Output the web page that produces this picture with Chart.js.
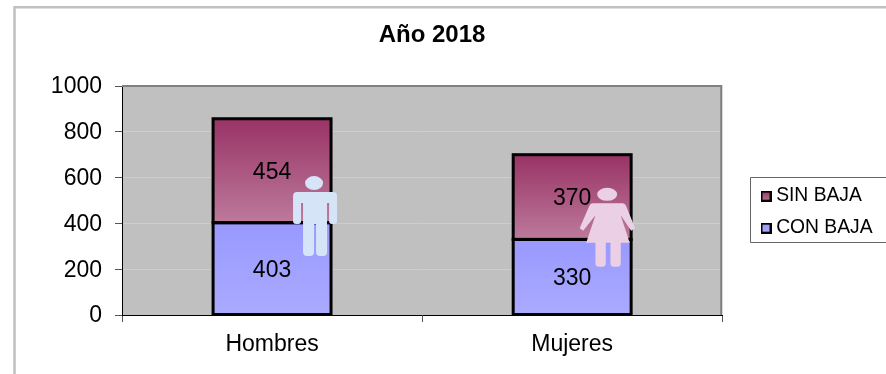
<!DOCTYPE html>
<html lang="es">

<head>
  <meta charset="UTF-8">
  <title>Año 2018</title>
  <script src="https://cdn.jsdelivr.net/npm/chart.js"></script>
  <style>
    body { margin: 0; background: #fff; }
    canvas { display: block; }
  </style>
</head>

<body>
  <canvas id="bajasChart" width="886" height="374"></canvas>
  <script>
    // Datos
    const categories = ['Hombres', 'Mujeres'];
    const conBaja = [403, 330];
    const sinBaja = [454, 370];
    const yTicks = [0, 200, 400, 600, 800, 1000];

    const font = 'Liberation Sans';

    function gradient(ctx, top, bottom, from, to) {
      const g = ctx.createLinearGradient(0, top, 0, bottom);
      g.addColorStop(0, from);
      g.addColorStop(1, to);
      return g;
    }

    // relleno de cada tramo, de arriba a abajo del propio tramo
    function segmentFill(from, to) {
      return function (c) {
        const y = c.chart.scales.y;
        if (!y || c.dataIndex === undefined) return from;
        const low = c.datasetIndex === 0 ? 0 : conBaja[c.dataIndex];
        const high = low + c.dataset.data[c.dataIndex];
        return gradient(c.chart.ctx, y.getPixelForValue(high), y.getPixelForValue(low), from, to);
      };
    }

    function swatch(from, to) {
      const s = document.createElement('canvas');
      s.width = 11;
      s.height = 11;
      const sx = s.getContext('2d');
      sx.fillStyle = gradient(sx, 0, 11, from, to);
      sx.fillRect(0, 0, 11, 11);
      sx.strokeStyle = '#000';
      sx.lineWidth = 2;
      sx.strokeRect(1, 1, 9, 9);
      return s;
    }

    // figuras, con origen en el centro de la cabeza
    const man = new Path2D('M-9 0a9 7 0 1 0 18 0a9 7 0 1 0 -18 0z' +
      'M-17 9H19Q23 9 23 13V38Q23 41 20 41H18Q15 41 15 38V20H13V69Q13 73 9 73H6Q2 73 2 69V41H0V69Q0 73 -4 73H-7Q-11 73 -11 69V20H-13V38Q-13 41 -16 41H-18Q-21 41 -21 38V13Q-21 9 -17 9Z');
    const woman = new Path2D('M-10 0a10 6.5 0 1 0 20 0a10 6.5 0 1 0 -20 0z' +
      'M-14 9H15Q18 9 19 12L28 34L24 36.5L13.5 21L22.5 48.5H13.6V69Q13.6 72.5 10 72.5H7Q3.3 72.5 3.3 69V48.5H-1.4V69Q-1.4 72.5 -5 72.5H-8Q-11.7 72.5 -11.7 69V48.5H-21L-11.7 21L-24 36.5L-27.5 34L-18 12Q-17 9 -14 9Z');

    const decor = {
      id: 'decor',
      afterLayout(chart) {
        // sitúa título y leyenda donde están en el original
        const t = chart.titleBlock;
        t.left = 14;
        t.right = 850;
        const l = chart.legend;
        l.left = 752.8;
        l.right = 886;
        l.top = 173.8;
        l.bottom = 270;
      },
      beforeDraw(chart) {
        const { ctx, chartArea: a } = chart;
        ctx.save();
        ctx.fillStyle = '#fff';
        ctx.fillRect(0, 0, chart.width, chart.height);
        ctx.strokeStyle = '#c0c0c0';
        ctx.lineWidth = 2.5;
        ctx.beginPath();
        ctx.moveTo(14.5, chart.height);
        ctx.lineTo(14.5, 7.2);
        ctx.lineTo(chart.width, 7.2);
        ctx.stroke();
        ctx.fillStyle = '#c0c0c0';
        ctx.fillRect(a.left, a.top, a.width, a.height);
        ctx.restore();
      },
      afterDatasetsDraw(chart) {
        const { ctx, chartArea: a, scales } = chart;
        ctx.save();
        ctx.strokeStyle = '#808080';
        ctx.lineWidth = 2;
        ctx.beginPath();
        ctx.moveTo(a.left, a.top);
        ctx.lineTo(a.right - 1, a.top);
        ctx.lineTo(a.right - 1, a.bottom);
        ctx.stroke();

        // contorno centrado en el borde de cada tramo, y su valor
        ctx.strokeStyle = '#000';
        ctx.lineWidth = 3;
        ctx.fillStyle = '#000';
        ctx.font = '23px "' + font + '"';
        ctx.textAlign = 'center';
        ctx.textBaseline = 'middle';
        chart.data.datasets.forEach(function (ds, d) {
          chart.getDatasetMeta(d).data.forEach(function (bar, i) {
            ctx.strokeRect(bar.x - bar.width / 2, bar.y, bar.width, bar.base - bar.y);
            ctx.fillText(ds.data[i], bar.x, (bar.y + bar.base) / 2 + 2);
          });
        });

        // figuras junto a cada barra
        const x0 = scales.x.getPixelForValue(0);
        const x1 = scales.x.getPixelForValue(1);
        ctx.fillStyle = '#d6e4f7';
        ctx.setTransform(1, 0, 0, 1, x0 + 42, scales.y.getPixelForValue(576));
        ctx.fill(man);
        ctx.fillStyle = '#ebd0e5';
        ctx.setTransform(1, 0, 0, 1, x1 + 35, scales.y.getPixelForValue(527));
        ctx.fill(woman);
        ctx.restore();
      },
      afterDraw(chart) {
        const { ctx } = chart;
        ctx.save();
        ctx.strokeStyle = '#666';
        ctx.lineWidth = 1;
        ctx.beginPath();
        ctx.moveTo(chart.width, 177.5);
        ctx.lineTo(750.5, 177.5);
        ctx.lineTo(750.5, 242.5);
        ctx.lineTo(chart.width, 242.5);
        ctx.stroke();
        ctx.restore();
      }
    };

    const chart = new Chart(document.getElementById('bajasChart').getContext('2d'), {
      type: 'bar',
      plugins: [decor],
      data: {
        labels: categories,
        datasets: [{
          label: 'CON BAJA',
          data: conBaja,
          backgroundColor: segmentFill('#9999ff', '#aaaaff'),
          borderWidth: 0,
          categoryPercentage: 1,
          barPercentage: 0.393
        }, {
          label: 'SIN BAJA',
          data: sinBaja,
          backgroundColor: segmentFill('#993366', '#bc7a9b'),
          borderWidth: 0,
          categoryPercentage: 1,
          barPercentage: 0.393
        }]
      },
      options: {
        responsive: false,
        animation: false,
        events: [],
        layout: { padding: { right: 34 } },
        scales: {
          x: {
            stacked: true,
            afterFit(s) { s.height = 59; },
            border: { color: '#000' },
            grid: { drawOnChartArea: false, tickLength: 7, tickColor: '#555' },
            ticks: { color: '#000', padding: 9, maxRotation: 0, font: { family: font, size: 23 } }
          },
          y: {
            stacked: true,
            min: 0,
            max: 1000,
            afterFit(s) { s.width = 122; },
            afterBuildTicks(s) { s.ticks = yTicks.map(v => ({ value: v })); },
            border: { color: '#000' },
            grid: { color: '#dccbb4', tickColor: '#555', tickLength: 7 },
            ticks: { color: '#000', padding: 13, labelOffset: 1, callback: v => String(v), font: { family: font, size: 23 } }
          }
        },
        plugins: {
          tooltip: { enabled: false },
          title: {
            display: true,
            text: 'Año 2018',
            color: '#000',
            font: { family: font, size: 24, weight: 'bold', lineHeight: 1.2 },
            padding: { top: 21, bottom: 36.2 }
          },
          legend: {
            position: 'right',
            align: 'start',
            labels: {
              color: '#000',
              font: { family: font, size: 19.3 },
              usePointStyle: true,
              pointStyleWidth: 1,
              padding: 12.7,
              generateLabels() {
                return [
                  { text: 'SIN BAJA', pointStyle: swatch('#993366', '#bc7a9b'), fontColor: '#000' },
                  { text: 'CON BAJA', pointStyle: swatch('#9999ff', '#aaaaff'), fontColor: '#000' }
                ];
              }
            }
          }
        }
      }
    });
  </script>
</body>

</html>
